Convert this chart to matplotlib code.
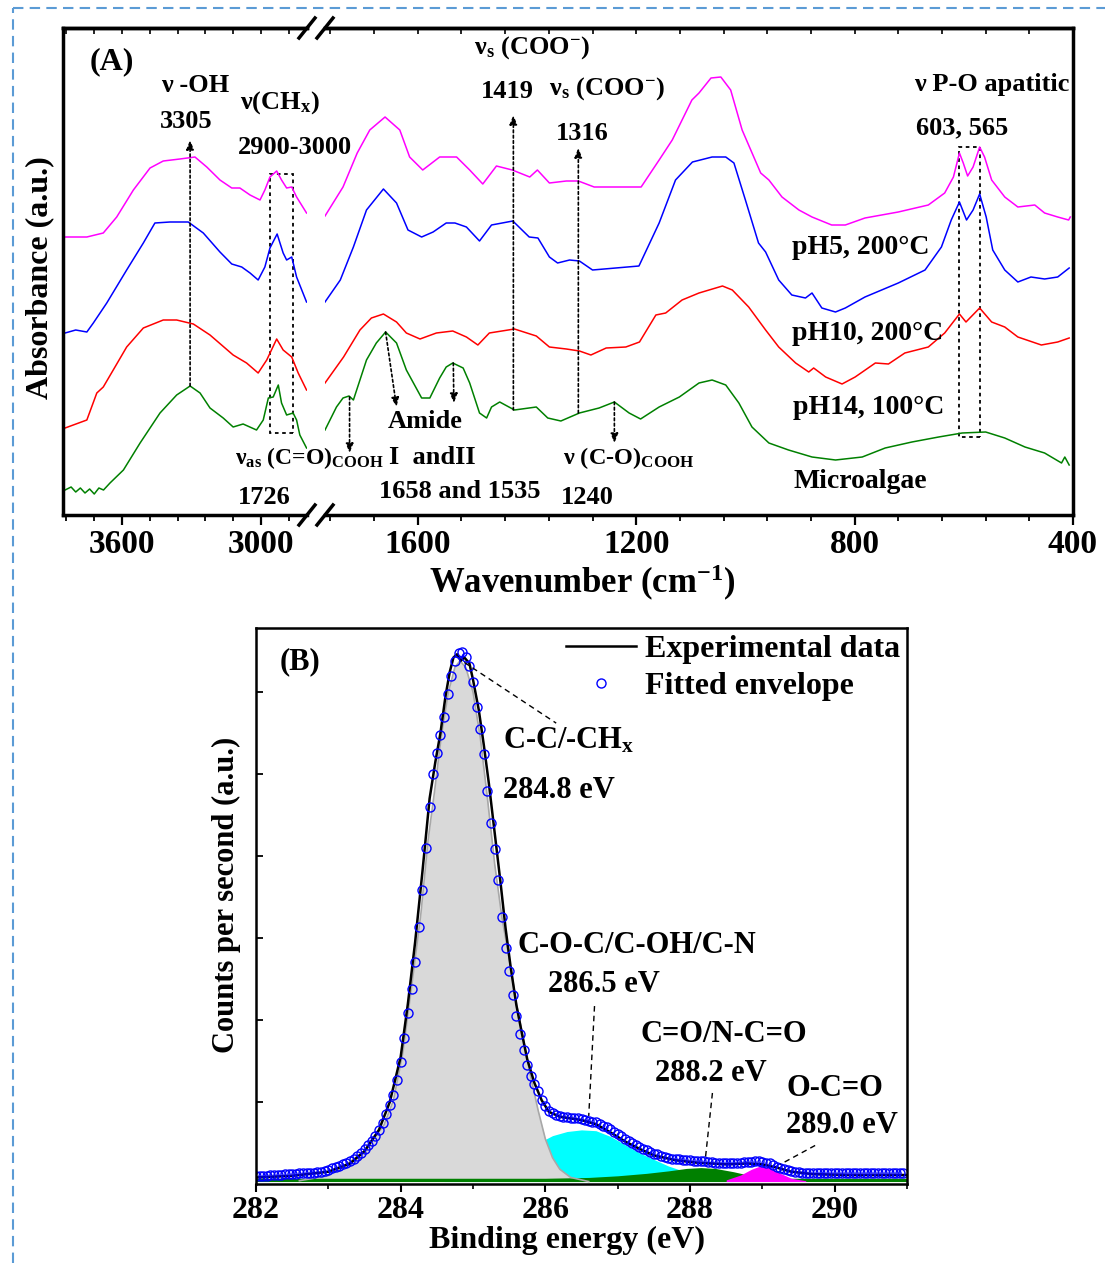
import numpy as np
import matplotlib
matplotlib.use("Agg")
import matplotlib.pyplot as plt
from matplotlib.lines import Line2D
from matplotlib.patches import Rectangle
from matplotlib.ticker import MultipleLocator, NullFormatter

plt.rcParams['font.family'] = 'Liberation Serif'
plt.rcParams['font.weight'] = 'bold'
plt.rcParams['mathtext.fontset'] = 'custom'
plt.rcParams['mathtext.rm'] = 'Liberation Serif:bold'
plt.rcParams['mathtext.it'] = 'Liberation Serif:bold:italic'
plt.rcParams['mathtext.bf'] = 'Liberation Serif:bold'
plt.rcParams['mathtext.default'] = 'rm'

# ---------------- (A) FTIR spectra ----------------
# pH5, 200C (magenta)
ph5_wn_hi = [3846, 3752, 3681, 3623, 3551, 3479, 3422, 3350, 3285, 3234, 3177, 3126, 3091,
             3047, 3004, 2983, 2961, 2932, 2911, 2889, 2867, 2846, 2803]
ph5_ab_hi = [2.83, 2.83, 2.87, 3.03, 3.30, 3.52, 3.59, 3.61, 3.63, 3.53, 3.40, 3.32, 3.32,
             3.25, 3.20, 3.30, 3.43, 3.49, 3.40, 3.32, 3.33, 3.23, 3.07]
ph5_wn_lo = [1770, 1737, 1711, 1688, 1660, 1633, 1615, 1591, 1560, 1529, 1505, 1481, 1456,
             1427, 1395, 1381, 1359, 1328, 1306, 1277, 1191, 1158, 1134, 1098, 1085, 1063,
             1045, 1027, 1006, 972, 957, 933, 902, 878, 842, 817, 781, 720, 665, 635, 619,
             608, 601, 593, 583, 571, 562, 549, 525, 501, 470, 452, 428, 408, 405]
ph5_ab_lo = [3.04, 3.33, 3.67, 3.90, 4.03, 3.90, 3.63, 3.50, 3.63, 3.63, 3.50, 3.36, 3.54,
             3.50, 3.43, 3.50, 3.37, 3.39, 3.39, 3.33, 3.33, 3.60, 3.80, 4.20, 4.27, 4.42,
             4.43, 4.30, 3.90, 3.47, 3.40, 3.23, 3.10, 3.03, 2.95, 2.95, 3.02, 3.08, 3.15,
             3.27, 3.43, 3.67, 3.57, 3.44, 3.53, 3.73, 3.63, 3.40, 3.23, 3.13, 3.15, 3.07,
             3.03, 3.00, 3.03]

# pH10, 200C (blue)
ph10_wn_hi = [3846, 3800, 3752, 3724, 3666, 3580, 3508, 3458, 3393, 3314, 3249, 3177, 3126,
              3083, 3047, 3012, 2983, 2961, 2930, 2904, 2889, 2867, 2846, 2803]
ph10_ab_hi = [1.87, 1.90, 1.88, 1.97, 2.17, 2.50, 2.77, 2.97, 2.98, 2.98, 2.87, 2.68, 2.56,
              2.53, 2.47, 2.40, 2.53, 2.72, 2.86, 2.67, 2.60, 2.63, 2.43, 2.18]
ph10_wn_lo = [1770, 1742, 1718, 1694, 1663, 1639, 1618, 1593, 1572, 1548, 1532, 1511, 1487,
              1465, 1426, 1396, 1380, 1359, 1344, 1322, 1304, 1280, 1195, 1158, 1128, 1097,
              1061, 1036, 1021, 1000, 976, 963, 939, 915, 890, 878, 860, 835, 817, 781, 720,
              671, 641, 623, 608, 595, 583, 571, 559, 547, 525, 501, 477, 452, 428, 407]
ph10_ab_lo = [2.18, 2.40, 2.73, 3.10, 3.31, 3.17, 2.90, 2.83, 2.88, 2.97, 2.97, 2.93, 2.79,
              2.95, 2.99, 2.83, 2.82, 2.63, 2.57, 2.60, 2.59, 2.50, 2.54, 2.97, 3.40, 3.58,
              3.63, 3.63, 3.57, 3.20, 2.77, 2.68, 2.40, 2.25, 2.22, 2.27, 2.12, 2.08, 2.12,
              2.23, 2.37, 2.50, 2.73, 3.00, 3.18, 3.00, 3.10, 3.26, 3.03, 2.70, 2.50, 2.38,
              2.43, 2.41, 2.43, 2.52]

# pH14, 100C (red)
ph14_wn_hi = [3846, 3752, 3709, 3681, 3638, 3580, 3508, 3422, 3364, 3292, 3220, 3120, 3062,
              3012, 2975, 2932, 2904, 2867, 2839, 2803]
ph14_ab_hi = [0.92, 1.00, 1.27, 1.33, 1.50, 1.73, 1.92, 2.00, 2.00, 1.96, 1.85, 1.65, 1.57,
              1.47, 1.60, 1.81, 1.70, 1.63, 1.47, 1.30]
ph14_wn_lo = [1770, 1736, 1706, 1685, 1663, 1639, 1621, 1596, 1566, 1536, 1511, 1490, 1469,
              1423, 1383, 1359, 1328, 1304, 1283, 1255, 1219, 1194, 1164, 1146, 1116, 1085,
              1042, 1024, 994, 963, 939, 908, 884, 875, 853, 823, 799, 762, 738, 708, 665,
              635, 608, 596, 571, 549, 525, 501, 458, 428, 407]
ph14_ab_lo = [1.37, 1.63, 1.90, 2.02, 2.06, 1.98, 1.87, 1.81, 1.87, 1.89, 1.83, 1.75, 1.87,
              1.91, 1.84, 1.73, 1.71, 1.69, 1.65, 1.72, 1.73, 1.78, 2.05, 2.07, 2.20, 2.27,
              2.34, 2.30, 2.13, 1.90, 1.73, 1.57, 1.48, 1.52, 1.43, 1.36, 1.43, 1.57, 1.56,
              1.67, 1.73, 1.87, 2.06, 1.98, 2.12, 1.98, 1.93, 1.83, 1.75, 1.78, 1.82]

# Microalgae (green)
alg_wn_hi = [3846, 3820, 3800, 3780, 3760, 3740, 3720, 3700, 3680, 3652, 3594, 3522, 3436,
             3364, 3306, 3263, 3220, 3163, 3120, 3077, 3019, 2990, 2968, 2947, 2925, 2911,
             2889, 2861, 2846, 2832, 2803]
alg_ab_hi = [0.30, 0.33, 0.28, 0.32, 0.27, 0.31, 0.26, 0.32, 0.30, 0.37, 0.50, 0.77, 1.07,
             1.25, 1.34, 1.27, 1.12, 1.02, 0.93, 0.96, 0.90, 1.00, 1.22, 1.23, 1.35, 1.17,
             1.05, 1.07, 1.00, 0.85, 0.72]
alg_wn_lo = [1770, 1749, 1737, 1726, 1718, 1694, 1676, 1659, 1639, 1621, 1593, 1578, 1560,
             1548, 1536, 1517, 1505, 1487, 1474, 1465, 1450, 1423, 1383, 1362, 1338, 1304,
             1268, 1240, 1213, 1192, 1158, 1121, 1085, 1061, 1036, 1012, 988, 957, 921, 878,
             835, 786, 744, 695, 646, 603, 560, 525, 488, 452, 421, 415, 407]
alg_ab_lo = [0.90, 1.13, 1.22, 1.24, 1.20, 1.60, 1.77, 1.88, 1.77, 1.50, 1.22, 1.22, 1.42,
             1.53, 1.57, 1.52, 1.37, 1.07, 1.02, 1.13, 1.18, 1.10, 1.13, 1.02, 0.99, 1.07,
             1.12, 1.18, 1.07, 1.01, 1.13, 1.23, 1.37, 1.40, 1.35, 1.17, 0.93, 0.77, 0.70,
             0.63, 0.60, 0.63, 0.72, 0.78, 0.83, 0.87, 0.88, 0.82, 0.73, 0.67, 0.57, 0.63,
             0.55]

# ---------------- (B) XPS C1s ----------------
be_start, be_step = 282.0, 0.05
envelope = [0.10, 0.10, 0.10, 0.10, 0.11, 0.11, 0.11, 0.11, 0.12, 0.12, 0.12, 0.12, 0.13,
            0.13, 0.13, 0.14, 0.14, 0.15, 0.15, 0.16, 0.17, 0.19, 0.21, 0.22, 0.24, 0.26,
            0.28, 0.30, 0.34, 0.38, 0.43, 0.48, 0.53, 0.59, 0.66, 0.74, 0.85, 0.96, 1.08,
            1.27, 1.49, 1.78, 2.08, 2.38, 2.71, 3.13, 3.59, 4.10, 4.60, 5.00, 5.25, 5.47,
            5.70, 5.98, 6.20, 6.38, 6.47, 6.49, 6.43, 6.32, 6.12, 5.82, 5.55, 5.24, 4.79,
            4.40, 4.08, 3.71, 3.26, 2.88, 2.60, 2.30, 2.05, 1.83, 1.63, 1.45, 1.32, 1.22,
            1.14, 1.03, 0.95, 0.89, 0.86, 0.84, 0.83, 0.82, 0.82, 0.81, 0.81, 0.80, 0.79,
            0.78, 0.77, 0.76, 0.75, 0.73, 0.71, 0.69, 0.67, 0.64, 0.61, 0.58, 0.55, 0.52,
            0.50, 0.47, 0.45, 0.43, 0.41, 0.39, 0.37, 0.36, 0.34, 0.33, 0.32, 0.31, 0.30,
            0.30, 0.29, 0.29, 0.29, 0.28, 0.28, 0.28, 0.28, 0.27, 0.27, 0.26, 0.26, 0.25,
            0.25, 0.25, 0.25, 0.26, 0.26, 0.27, 0.27, 0.27, 0.28, 0.28, 0.27, 0.26, 0.25,
            0.23, 0.21, 0.20, 0.18, 0.17, 0.16, 0.15, 0.15, 0.14, 0.14, 0.14, 0.14, 0.13,
            0.13, 0.13, 0.13, 0.13, 0.13, 0.13, 0.13, 0.13, 0.13, 0.13, 0.13, 0.13, 0.13,
            0.13, 0.13, 0.13, 0.13, 0.13, 0.13, 0.13, 0.13, 0.13, 0.13, 0.13]
exp_be = [282.0, 282.5, 283.0, 283.3, 283.5, 283.7, 283.85, 284.0, 284.1, 284.2, 284.3, 284.4,
          284.48, 284.55, 284.62, 284.68, 284.73, 284.78, 284.83, 284.88, 284.95, 285.0,
          285.08, 285.15, 285.22, 285.3, 285.38, 285.45, 285.52, 285.6, 285.68, 285.75,
          285.85, 285.95, 286.05, 286.2, 286.5, 286.7, 286.9, 287.1, 287.3, 287.5, 287.8,
          288.1, 288.5, 288.8, 289.0, 289.2, 289.4, 289.7, 290.2, 291.0]
exp_cps = [0.08, 0.10, 0.15, 0.25, 0.40, 0.66, 1.00, 1.55, 2.20, 2.95, 3.80, 4.70, 5.15, 5.50,
           5.95, 6.25, 6.42, 6.46, 6.38, 6.42, 6.35, 6.15, 5.78, 5.35, 4.88, 4.28, 3.68, 3.12,
           2.65, 2.18, 1.82, 1.52, 1.23, 1.02, 0.88, 0.82, 0.78, 0.73, 0.63, 0.52, 0.43, 0.35,
           0.29, 0.26, 0.24, 0.25, 0.24, 0.20, 0.15, 0.12, 0.11, 0.11]
cc_be = [282.6, 283.0, 283.14, 283.3, 283.52, 283.77, 283.9, 284.03, 284.15, 284.28, 284.38,
         284.47, 284.56, 284.66, 284.75, 284.82, 284.9, 285.0, 285.1, 285.2, 285.3, 285.4,
         285.5, 285.6, 285.7, 285.8, 285.9, 286.0, 286.1, 286.2, 286.35, 286.6]
cc_cps = [0.04, 0.10, 0.18, 0.27, 0.42, 0.72, 1.02, 1.60, 2.40, 3.30, 4.20, 4.80, 5.45, 6.00,
          6.30, 6.38, 6.30, 6.00, 5.45, 4.70, 3.90, 3.25, 2.75, 2.20, 1.75, 1.30, 0.90, 0.55,
          0.32, 0.18, 0.08, 0.03]
coc_be = [284.6, 284.9, 285.2, 285.5, 285.7, 285.9, 286.1, 286.3, 286.5, 286.7, 286.9, 287.1,
          287.3, 287.5, 287.7, 287.9, 288.1, 288.3, 288.6]
coc_cps = [0.04, 0.08, 0.13, 0.25, 0.38, 0.50, 0.59, 0.64, 0.66, 0.65, 0.58, 0.48, 0.38, 0.30,
           0.22, 0.16, 0.10, 0.06, 0.03]
nco_be = [282.0, 283.0, 284.0, 285.0, 286.0, 286.6, 287.0, 287.4, 287.7, 287.95, 288.15, 288.35,
          288.6, 288.8, 289.0, 289.3, 289.6, 290.0, 291.0]
nco_cps = [0.07, 0.07, 0.07, 0.07, 0.07, 0.08, 0.10, 0.13, 0.16, 0.19, 0.20, 0.19, 0.15, 0.11,
           0.08, 0.07, 0.07, 0.07, 0.07]
oco_be = [288.5, 288.7, 288.85, 288.97, 289.1, 289.25, 289.4, 289.6]
oco_cps = [0.05, 0.11, 0.18, 0.22, 0.20, 0.13, 0.07, 0.04]

W, H = 1105, 1263


def box(x0, y0, x1, y1):
    return [x0 / W, 1 - y1 / H, (x1 - x0) / W, (y1 - y0) / H]


fig = plt.figure(figsize=(W / 100, H / 100), dpi=100)

# dashed blue frame
fig.add_artist(Line2D([13 / W, 13 / W], [0, 1 - 8 / H], transform=fig.transFigure,
                      color='#5b9bd5', lw=1.5, ls=(0, (5, 3))))
fig.add_artist(Line2D([13 / W, 1], [1 - 8 / H, 1 - 8 / H], transform=fig.transFigure,
                      color='#5b9bd5', lw=1.5, ls=(0, (5, 3))))

axL = fig.add_axes(box(63, 28, 307, 515))
axR = fig.add_axes(box(325, 28, 1073, 515))
axR.patch.set_alpha(0)
axL.patch.set_alpha(0)

series = [
    (ph5_wn_hi, ph5_ab_hi, ph5_wn_lo, ph5_ab_lo, '#ff00ff'),
    (ph10_wn_hi, ph10_ab_hi, ph10_wn_lo, ph10_ab_lo, '#0000ff'),
    (ph14_wn_hi, ph14_ab_hi, ph14_wn_lo, ph14_ab_lo, '#ff0000'),
    (alg_wn_hi, alg_ab_hi, alg_wn_lo, alg_ab_lo, '#008000'),
]
for wh, ah, wl, al, c in series:
    axL.plot(wh, ah, color=c, lw=1.1)
    axR.plot(wl, al, color=c, lw=1.1)

axL.set_xlim(3855, 2801)
axR.set_xlim(1770, 404)
for ax in (axL, axR):
    ax.set_ylim(0.05, 4.92)
    ax.set_yticks([])
    for s in ax.spines.values():
        s.set_linewidth(2.5)
    ax.tick_params(axis='x', which='major', direction='out', length=7, width=1.6,
                   labelsize=24, pad=3)
    ax.tick_params(axis='x', which='minor', direction='out', length=4, width=1.3)
axL.spines['right'].set_visible(False)
axR.spines['left'].set_visible(False)
axL.set_xticks([3600, 3000])
axL.xaxis.set_minor_locator(MultipleLocator(120))
axR.set_xticks([1600, 1200, 800, 400])
axR.xaxis.set_minor_locator(MultipleLocator(80))

for ax, maj, mn in ((axL, [3600, 3000], 120), (axR, [1600, 1200, 800, 400], 80)):
    sec = ax.secondary_xaxis('top')
    sec.set_xticks(maj)
    sec.xaxis.set_minor_locator(MultipleLocator(mn))
    sec.tick_params(axis='x', which='both', direction='in', length=4, width=1.2,
                    labeltop=False)
    sec.spines['top'].set_linewidth(2.5)

# axis break marks
for xb in (307, 325):
    for yb in (28, 515):
        fig.add_artist(Line2D([(xb - 8) / W, (xb + 8) / W],
                              [1 - (yb + 10) / H, 1 - (yb - 10) / H],
                              transform=fig.transFigure, color='k', lw=2.5))

fig.text(582 / W, 1 - 583 / H, 'Wavenumber (cm$^{-1}$)', ha='center', va='center',
         fontsize=25)
fig.text(40 / W, 1 - 278 / H, 'Absorbance (a.u.)', ha='center', va='center',
         rotation=90, fontsize=23)

dot = (0, (1.6, 1.6))


def arrow(ax, tail, tip):
    ax.annotate('', xy=tip, xytext=tail,
                arrowprops=dict(arrowstyle='-|>,head_length=0.55,head_width=0.22',
                                ls=dot, lw=1.2, color='k', fc='k',
                                shrinkA=0, shrinkB=0))


arrow(axL, (3306, 1.34), (3306, 3.80))
arrow(axR, (1425, 1.10), (1425, 4.05))
arrow(axR, (1306, 1.07), (1306, 3.72))
arrow(axR, (1725, 1.23), (1725, 0.67))
arrow(axR, (1240, 1.18), (1240, 0.77))
arrow(axR, (1659, 1.88), (1639, 1.13))
arrow(axR, (1535, 1.57), (1534, 1.17))
axL.add_patch(Rectangle((2860, 0.87), 101, 2.59, fill=False, ls=(0, (2, 2)), lw=1.3,
                        ec='k'))
axR.add_patch(Rectangle((570, 0.83), 38, 2.90, fill=False, ls=(0, (2, 2)), lw=1.3,
                        ec='k'))

fs = 19
axL.text(3643, 4.58, '(A)', ha='center', va='center', fontsize=23)
axL.text(3285, 4.35, 'ν -OH', ha='center', va='center', fontsize=fs)
axL.text(3324, 3.99, '3305', ha='center', va='center', fontsize=fs)
axL.text(2918, 4.17, 'ν(CH$_{x}$)', ha='center', va='center', fontsize=fs)
axL.text(2853, 3.72, '2900-3000', ha='center', va='center', fontsize=fs)
axL.text(3110, 0.62, 'ν$_{as}$ (C=O)$_{COOH}$', ha='left', va='center', fontsize=17)
axL.text(2987, 0.23, '1726', ha='center', va='center', fontsize=fs)
axR.text(1390, 4.72, 'ν$_{s}$ (COO$^{-}$)', ha='center', va='center', fontsize=fs)
axR.text(1436, 4.28, '1419', ha='center', va='center', fontsize=fs)
axR.text(1253, 4.31, 'ν$_{s}$ (COO$^{-}$)', ha='center', va='center', fontsize=fs)
axR.text(1299, 3.87, '1316', ha='center', va='center', fontsize=fs)
axR.text(1587, 0.99, 'Amide', ha='center', va='center', fontsize=fs)
axR.text(1652, 0.63, 'I  andII', ha='left', va='center', fontsize=fs)
axR.text(1523, 0.28, '1658 and 1535', ha='center', va='center', fontsize=fs)
axR.text(1335, 0.62, 'ν (C-O)$_{COOH}$', ha='left', va='center', fontsize=17.5)
axR.text(1290, 0.22, '1240', ha='center', va='center', fontsize=fs)
axR.text(548, 4.35, 'ν P-O apatitic', ha='center', va='center', fontsize=fs)
axR.text(603, 3.92, '603, 565', ha='center', va='center', fontsize=fs)
axR.text(789, 2.73, 'pH5, 200°C', ha='center', va='center', fontsize=20)
axR.text(776, 1.87, 'pH10, 200°C', ha='center', va='center', fontsize=20)
axR.text(775, 1.12, 'pH14, 100°C', ha='center', va='center', fontsize=20)
axR.text(789, 0.38, 'Microalgae', ha='center', va='center', fontsize=20)

# ---------------- panel B ----------------
axB = fig.add_axes(box(256, 628, 907, 1184))
be = np.round(be_start + be_step * np.arange(len(envelope)), 2)
base = 0.03
axB.fill_between(coc_be, base, coc_cps, color='#00ffff', lw=0)
axB.fill_between(cc_be, base, cc_cps, color='#d9d9d9', lw=0)
axB.plot(cc_be, cc_cps, color='#a8a8a8', lw=1.2)
axB.fill_between(nco_be, base, nco_cps, color='#008000', lw=0)
axB.fill_between(oco_be, base, oco_cps, color='#ff00ff', lw=0)
axB.plot(exp_be, exp_cps, color='k', lw=1.8, label='Experimental data')
axB.plot(be, envelope, ls='none', marker='o', ms=6.5, mfc='none', mec='#0000ff', mew=1.0,
         label='Fitted envelope')

axB.set_xlim(282, 291)
axB.set_ylim(0, 6.78)
axB.set_xticks([282, 284, 286, 288, 290])
axB.xaxis.set_minor_locator(MultipleLocator(1))
axB.set_yticks([1, 2, 3, 4, 5, 6])
axB.yaxis.set_major_formatter(NullFormatter())
axB.tick_params(axis='x', which='major', direction='out', length=6, width=1.5,
                labelsize=23, pad=3)
axB.tick_params(axis='x', which='minor', direction='out', length=3.5, width=1.2)
axB.tick_params(axis='y', which='major', direction='in', length=5, width=1.3)
for s in axB.spines.values():
    s.set_linewidth(1.8)

axB.legend(loc='upper right', bbox_to_anchor=(1.0, 1.0), frameon=False, fontsize=23,
           handlelength=2.2, handletextpad=0.3, labelspacing=0.25, borderpad=0.15,
           borderaxespad=0.05, numpoints=1)

fsb = 22
axB.text(282.61, 6.37, '(B)', ha='center', va='center', fontsize=fsb)
axB.text(285.41, 5.41, 'C-C/-CH$_{x}$', ha='left', va='center', fontsize=fsb)
axB.text(285.41, 4.80, '284.8 eV', ha='left', va='center', fontsize=fsb)
axB.text(285.61, 2.91, 'C-O-C/C-OH/C-N', ha='left', va='center', fontsize=fsb)
axB.text(286.04, 2.43, '286.5 eV', ha='left', va='center', fontsize=fsb)
axB.text(287.31, 1.82, 'C=O/N-C=O', ha='left', va='center', fontsize=fsb)
axB.text(287.52, 1.35, '288.2 eV', ha='left', va='center', fontsize=fsb)
axB.text(289.33, 1.17, 'O-C=O', ha='left', va='center', fontsize=fsb)
axB.text(289.33, 0.71, '289.0 eV', ha='left', va='center', fontsize=fsb)
for (x0, y0), (x1, y1) in (((284.88, 6.36), (286.15, 5.62)),
                           ((286.68, 2.17), (286.60, 0.83)),
                           ((288.31, 1.11), (288.21, 0.29)),
                           ((289.73, 0.47), (289.25, 0.24))):
    axB.plot([x0, x1], [y0, y1], color='k', lw=1.0, ls=(0, (4, 3)))

fig.text(567 / W, 1 - 1240 / H, 'Binding energy (eV)', ha='center', va='center',
         fontsize=23)
fig.text(226 / W, 1 - 895 / H, 'Counts per second (a.u.)', ha='center', va='center',
         rotation=90, fontsize=22)

fig.savefig('out.png', dpi=100)
